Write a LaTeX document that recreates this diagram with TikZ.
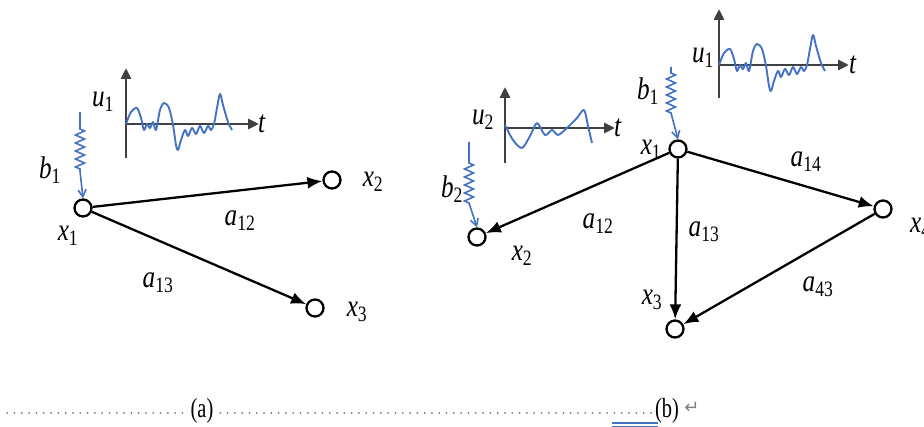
\documentclass[tikz,border=0pt]{standalone}
\usepackage{graphicx}
\usepackage{fontspec}
\setmainfont{Liberation Serif}
\newfontfamily\symfont{DejaVu Sans}
\usetikzlibrary{arrows.meta,decorations.pathmorphing}
\definecolor{wblue}{HTML}{4472C4}
\definecolor{axgray}{HTML}{404040}
\newcommand\vx[2]{\scalebox{0.9}[1.12]{\textit{#1}\textsubscript{#2}}}
\newcommand\capt[1]{\scalebox{0.85}[1.15]{#1}}
\tikzset{
  vert/.style={circle,draw,line width=2.3pt,minimum size=17pt,inner sep=0pt},
  edgearrow/.style={line width=2.3pt,-{Latex[length=15pt,width=12pt]}},
  lbl/.style={font=\fontsize{28}{30}\selectfont,inner sep=0pt},
  axisline/.style={axgray,line width=2.8pt,-{Triangle[length=11pt,width=10pt]}},
  wave/.style={wblue,line width=1.9pt,line join=round},
  inputarrow/.style={wblue,line width=1.6pt,-{Straight Barb[length=7pt,width=8pt]}},
  zz/.style={decoration={zigzag,segment length=8pt,amplitude=4.5pt}},
  bottomdots/.style={gray,line width=1.3pt,dash pattern=on 0.5pt off 6.8pt,line cap=round},
  caption/.style={font=\fontsize{24}{26}\selectfont,inner sep=0pt}
}
\newcommand\uonewave{%
  plot[smooth,tension=0.5] coordinates {(0,0) (5,-12) (11,-16) (15,-6) (18,6) (21,0) (24,4) (27,-2) (30,6) (34,-14) (38,-21) (43,-16) (47,1) (50,21) (52,26) (55,16) (59,6) (62,12) (66,4) (70,10) (74,2) (78,9) (82,2) (85,6) (88,0) (91,-16) (94,-30) (97,-19) (102,-2) (106,6)}}
\begin{document}
\begin{tikzpicture}[x=1pt,y=-1pt]
\useasboundingbox (0,0) rectangle (924,427);

% ================= (a) =================
\node[vert] (a1) at (83,208) {};
\node[vert] (a2) at (332,180) {};
\node[vert] (a3) at (315,308) {};
\draw[edgearrow] (a1) -- (a2);
\draw[edgearrow] (a1) -- (a3);
\node[lbl] (la1) at (68,236) {\vx{x}{1}};
\node[lbl] (la2) at (373,182) {\vx{x}{2}};
\node[lbl] (la3) at (357,312) {\vx{x}{3}};
\node[lbl] (la12) at (240,221) {\vx{a}{12}};
\node[lbl] (la13) at (158,283) {\vx{a}{13}};
\node[lbl] (lab1) at (50,170) {\vx{b}{1}};
% input b1
\coordinate (ab1top) at (80,112);
\draw[inputarrow] (ab1top) -- ++(0,17) decorate[zz] {-- ++(0,42)} -- (a1.north);
% plot u1
\coordinate (aO) at (126,124);
\coordinate (aYb) at (126,158);
\coordinate (aYt) at (126,68);
\coordinate (aXt) at (259,124);
\draw[axisline] (aYb) -- (aYt);
\draw[axisline] (aO) -- (aXt);
\node[lbl,anchor=west] (lat) at (258,124) {\scalebox{0.9}[1.12]{\textit{t}}};
\node[lbl] (lau1) at (103,102) {\vx{u}{1}};
\begin{scope}[shift={(126,124)}]
  \draw[wave] \uonewave;
\end{scope}

% ================= (b) =================
\node[vert] (b1) at (678,149) {};
\node[vert] (b2) at (477,237) {};
\node[vert] (b3) at (675,329) {};
\node[vert] (b4) at (883,209) {};
\draw[edgearrow] (b1) -- (b2);
\draw[edgearrow] (b1) -- (b3);
\draw[edgearrow] (b1) -- (b4);
\draw[edgearrow] (b4) -- (b3);
\node[lbl] (lb1) at (651,150) {\vx{x}{1}};
\node[lbl] (lb2) at (522,256) {\vx{x}{2}};
\node[lbl] (lb3) at (652,300) {\vx{x}{3}};
\node[lbl,anchor=west] (lb4) at (910,228) {\vx{x}{4}};
\node[lbl] (lb12) at (598,224) {\vx{a}{12}};
\node[lbl] (lb13) at (704,232) {\vx{a}{13}};
\node[lbl] (lb14) at (806,162) {\vx{a}{14}};
\node[lbl] (lb43) at (818,287) {\vx{a}{43}};
\node[lbl] (lbb1) at (648,91) {\vx{b}{1}};
\node[lbl] (lbb2) at (452,189) {\vx{b}{2}};
% inputs
\coordinate (bb1top) at (671,67);
\draw[inputarrow] (bb1top) -- ++(0,6) decorate[zz] {-- ++(0,40)} -- (b1.north);
\coordinate (bb2top) at (469,142);
\draw[inputarrow] (bb2top) -- ++(0,21) decorate[zz] {-- ++(0,40)} -- (b2.north);
% plot u1 (b)
\coordinate (bO) at (719,65);
\coordinate (bYb) at (719,98);
\coordinate (bYt) at (719,9);
\coordinate (bXt) at (849,65);
\draw[axisline] (bYb) -- (bYt);
\draw[axisline] (bO) -- (bXt);
\node[lbl,anchor=west] (lbt1) at (849,65) {\scalebox{0.9}[1.12]{\textit{t}}};
\node[lbl] (lbu1) at (703,58) {\vx{u}{1}};
\begin{scope}[shift={(719,65)}]
  \draw[wave] \uonewave;
\end{scope}
% plot u2
\coordinate (cO) at (505,128);
\coordinate (cYb) at (505,163);
\coordinate (cYt) at (505,87);
\coordinate (cXt) at (615,128);
\draw[axisline] (cYb) -- (cYt);
\draw[axisline] (cO) -- (cXt);
\node[lbl,anchor=west] (lbt2) at (614,128) {\scalebox{0.9}[1.12]{\textit{t}}};
\node[lbl] (lbu2) at (483,120) {\vx{u}{2}};
\begin{scope}[shift={(505,128)}]
  \draw[wave] plot[smooth,tension=0.5] coordinates {(0,-3) (8,12) (17,20) (25,8) (32,-5) (40,7) (47,2) (53,7) (62,0) (72,-10) (79,-18) (83,-2) (87,15)};
\end{scope}

% ================= captions =================
\coordinate (d1s) at (7,413);
\coordinate (d1e) at (186,413);
\coordinate (d2s) at (220,413);
\coordinate (d2e) at (652,413);
\draw[bottomdots] (d1s) -- (d1e);
\draw[bottomdots] (d2s) -- (d2e);
\node[caption] (capa) at (202,411) {\capt{(a)}};
\node[caption] (capb) at (667,411) {\capt{(b)}};
\node[font=\symfont\fontsize{18}{20}\selectfont,text=gray,inner sep=0pt] (ret) at (692,408) {↵};
\coordinate (ul1s) at (612,423);
\coordinate (ul1e) at (658,423);
\coordinate (ul2s) at (612,426.5);
\coordinate (ul2e) at (658,426.5);
\draw[wblue,line width=1.2pt] (ul1s) -- (ul1e);
\draw[wblue,line width=1.2pt] (ul2s) -- (ul2e);
\end{tikzpicture}
\end{document}
